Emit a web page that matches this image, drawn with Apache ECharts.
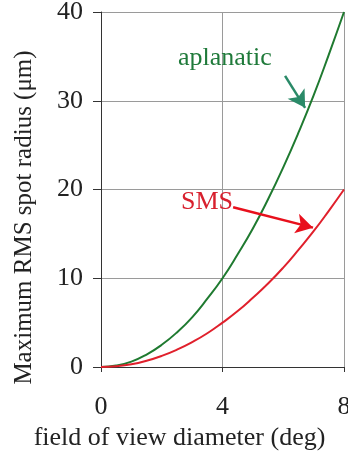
<!DOCTYPE html>
<html><head><meta charset="utf-8">
<script src="https://cdn.jsdelivr.net/npm/echarts@6/dist/echarts.min.js"></script>
<style>html,body{margin:0;padding:0;background:#fff}#c{width:348px;height:451px}</style>
</head><body><div id="c"></div>
<script>
const fov = [0, 0.5, 1, 1.5, 2, 2.5, 3, 3.5, 4, 4.5, 5, 5.5, 6, 6.5, 7, 7.5, 8];
const aplanatic = [0, 0.16, 0.6, 1.4, 2.5, 3.9, 5.6, 7.7, 10, 12.7, 15.6, 18.9, 22.5, 26.4, 30.6, 35.2, 40];
const sms = [0, 0.08, 0.3, 0.7, 1.25, 1.95, 2.8, 3.8, 5, 6.3, 7.8, 9.4, 11.2, 13.2, 15.3, 17.6, 20];
const xTicks = [0, 4, 8];
const yTicks = [0, 10, 20, 30, 40];
const aplLabel = {text: 'aplanatic', at: [4.08, 34.8]};
const aplArrow = [[6.06, 32.8], [6.72, 29.2]];
const smsLabel = {text: 'SMS', at: [3.49, 18.6]};
const smsArrow = [[4.35, 18.0], [6.98, 15.7]];

const FONT = '"Liberation Serif", "Times New Roman", serif';
const chart = echarts.init(document.getElementById('c'), null, {renderer: 'canvas'});
function pts(ys) { return fov.map((x, i) => [x, ys[i]]); }
chart.setOption({
  animation: false,
  grid: {left: 101, right: 4, top: 12, bottom: 84, outerBoundsMode: 'none', containLabel: false},
  xAxis: {
    type: 'value', min: xTicks[0], max: xTicks[xTicks.length - 1], interval: 4,
    name: 'field of view diameter (deg)', nameLocation: 'middle', nameGap: 49,
    nameTextStyle: {fontFamily: FONT, fontSize: 26, color: '#222', padding: [0, 86, 0, 0]},
    axisLine: {lineStyle: {color: '#333', width: 1}},
    axisTick: {show: true, length: 5, lineStyle: {color: '#333'}},
    axisLabel: {fontFamily: FONT, fontSize: 26, color: '#222', margin: 27, hideOverlap: false},
    splitLine: {show: true, lineStyle: {color: '#9a9a9a', width: 1}}
  },
  yAxis: {
    type: 'value', min: yTicks[0], max: yTicks[yTicks.length - 1], interval: 10,
    name: 'Maximum RMS spot radius (\u03bcm)', nameLocation: 'middle', nameGap: 64,
    nameTextStyle: {fontFamily: FONT, fontSize: 25, color: '#222', padding: [0, 56, 0, 0]},
    axisLine: {show: true, lineStyle: {color: '#333', width: 1}},
    axisTick: {show: true, length: 8, lineStyle: {color: '#333'}},
    axisLabel: {fontFamily: FONT, fontSize: 26, color: '#222', margin: 18},
    splitLine: {show: true, lineStyle: {color: '#9a9a9a', width: 1}}
  },
  series: [
    {type: 'line', data: pts(aplanatic), smooth: true, symbol: 'none',
     lineStyle: {color: '#1f7a30', width: 2}, z: 3,
     markLine: {silent: true, symbol: ['none', 'arrow'], symbolSize: [15, 17],
       lineStyle: {color: '#2a8a68', width: 2.5, type: 'solid'}, label: {show: false},
       data: [[{coord: aplArrow[0]}, {coord: aplArrow[1]}]]}},
    {type: 'line', data: pts(sms), smooth: true, symbol: 'none',
     lineStyle: {color: '#e0202c', width: 2}, z: 3,
     markLine: {silent: true, symbol: ['none', 'arrow'], symbolSize: [15, 17],
       lineStyle: {color: '#e8101c', width: 2.5, type: 'solid'}, label: {show: false},
       data: [[{coord: smsArrow[0]}, {coord: smsArrow[1]}]]}}
  ]
});
const p1 = chart.convertToPixel({gridIndex: 0}, aplLabel.at);
const p2 = chart.convertToPixel({gridIndex: 0}, smsLabel.at);
chart.setOption({graphic: [
  {type: 'text', x: p1[0], y: p1[1], style: {text: aplLabel.text, fill: '#1f7a3a', font: '26px ' + FONT, align: 'center', verticalAlign: 'middle'}},
  {type: 'text', x: p2[0], y: p2[1], style: {text: smsLabel.text, fill: '#d8202e', font: '26px ' + FONT, align: 'center', verticalAlign: 'middle'}}
]});
</script></body></html>
